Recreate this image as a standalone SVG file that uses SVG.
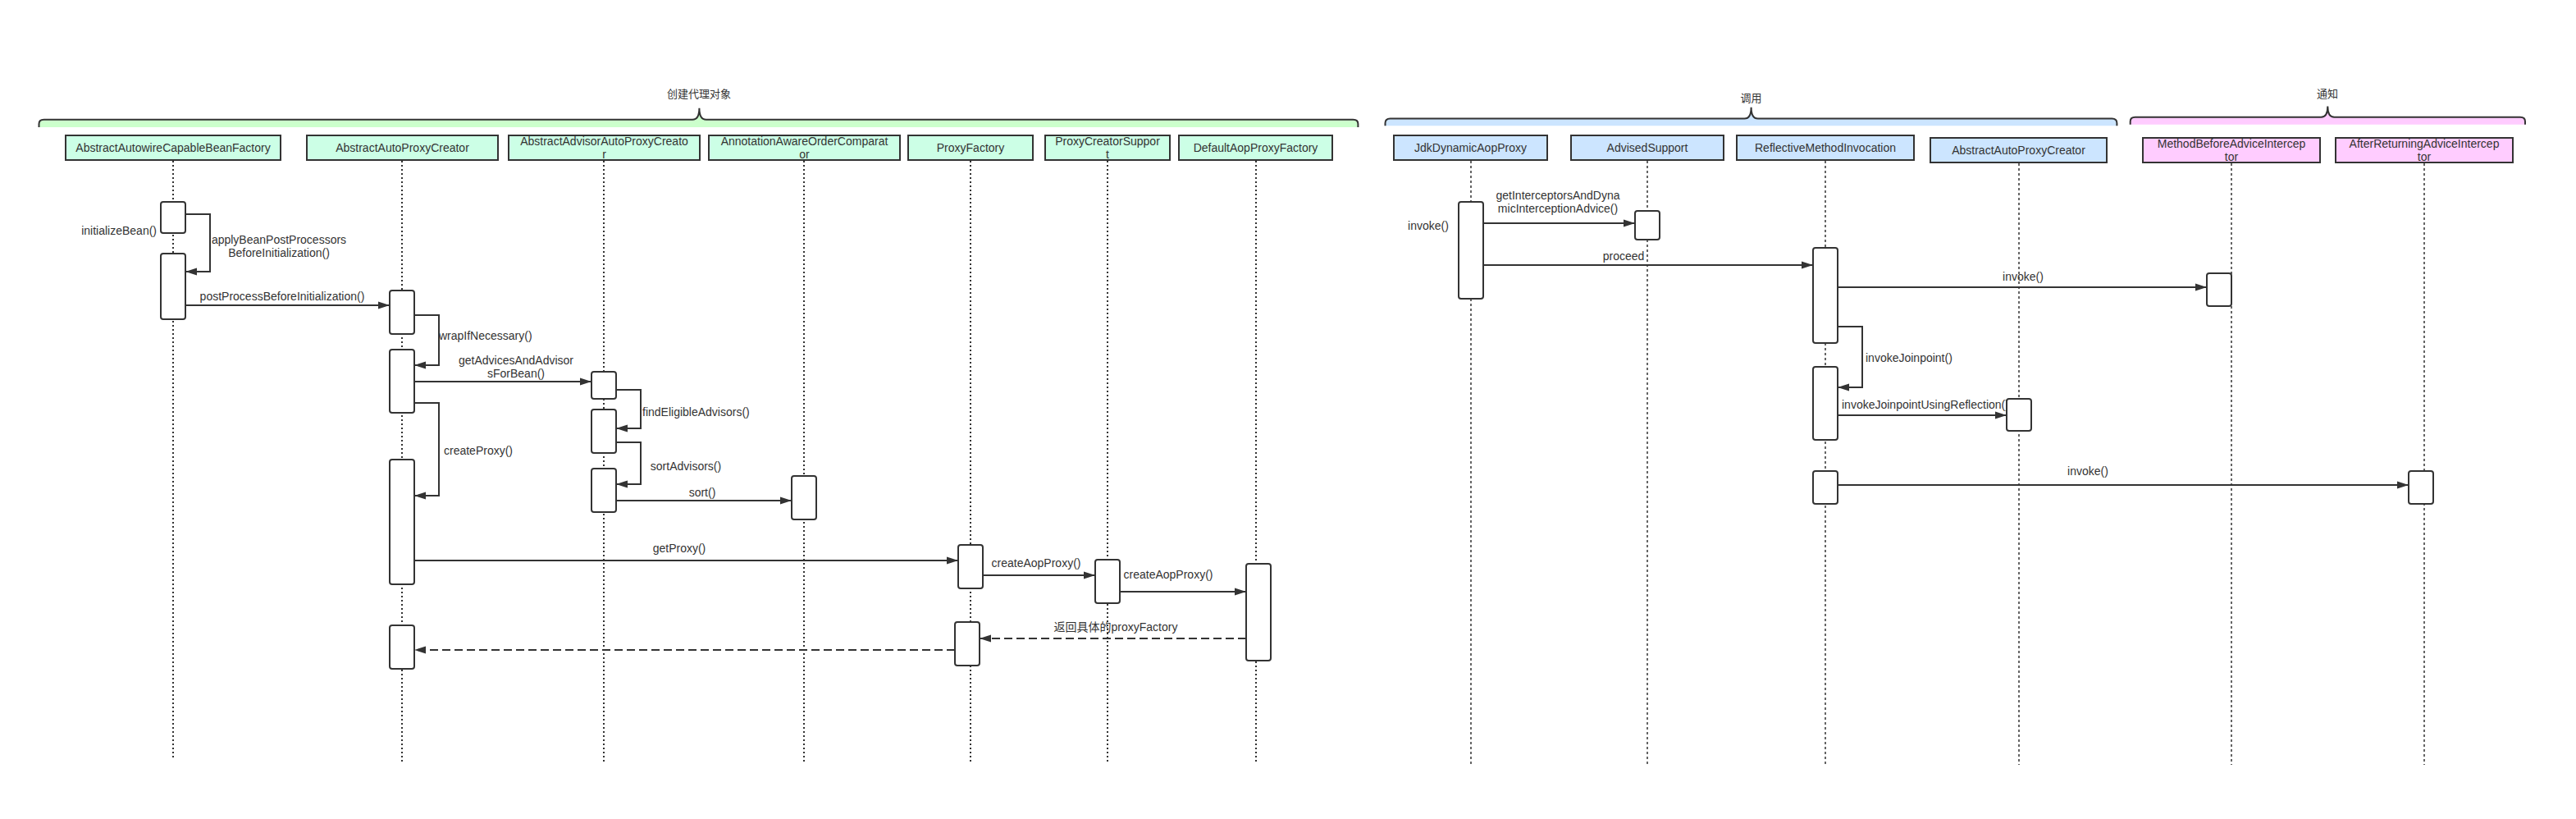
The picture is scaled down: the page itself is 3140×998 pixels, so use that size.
<svg xmlns="http://www.w3.org/2000/svg" width="3140" height="998" viewBox="0 0 3140 998">
<style>
text{font-family:"Liberation Sans","Noto Sans CJK SC",sans-serif;font-size:14px;fill:#333}
.mid{text-anchor:middle}
.end{text-anchor:end}
.cjk{font-size:13px}
.brace{stroke:#333;stroke-width:2}
.hg{fill:#CCFFE6;stroke:#333;stroke-width:2}
.hb{fill:#CCE5FF;stroke:#333;stroke-width:2}
.hp{fill:#FFCCFF;stroke:#333;stroke-width:2}
.ll{stroke:#333;stroke-width:2;stroke-dasharray:2 3;fill:none}
.ll2{stroke:#333;stroke-width:1.5;stroke-dasharray:3 3;fill:none}
.act{fill:#fff;stroke:#333;stroke-width:2}
.msg{stroke:#333;stroke-width:2;fill:none;marker-end:url(#ah)}
.ret{stroke:#333;stroke-width:2;fill:none;stroke-dasharray:10 5;marker-end:url(#ah)}
</style>
<defs>
<marker id="ah" markerUnits="userSpaceOnUse" markerWidth="14" markerHeight="10" refX="14" refY="5" orient="auto">
<path d="M0,0.5 L14,5 L0,9.5 z" fill="#333"/>
</marker>
</defs>
<rect width="3140" height="998" fill="#fff"/>

<g id="braces">
<g id="brace-create">
<path class="brace" fill="#CCFFCC" d="M47.5,155 L47.5,151 Q47.5,145.7 53.5,145.7 L844,145.7 Q852.4,145.7 852.4,131.7 Q852.4,145.7 860.8,145.7 L1649.4,145.7 Q1655.4,145.7 1655.4,151 L1655.4,155"/>
<text class="cjk mid" x="852" y="118.5">创建代理对象</text>
</g>
<g id="brace-invoke">
<path class="brace" fill="#CCE5FF" d="M1688.5,153.3 L1688.5,150 Q1688.5,144.5 1694.5,144.5 L2126.4,144.5 Q2134.6,144.5 2134.6,130.7 Q2134.6,144.5 2142.8,144.5 L2574.4,144.5 Q2580.4,144.5 2580.4,150 L2580.4,153.3"/>
<text class="cjk mid" x="2134.6" y="124">调用</text>
</g>
<g id="brace-advice">
<path class="brace" fill="#FFCCFF" d="M2596.7,151.7 L2596.7,148 Q2596.7,142.7 2602.7,142.7 L2829.3,142.7 Q2837.3,142.7 2837.3,129.5 Q2837.3,142.7 2845.3,142.7 L3072,142.7 Q3078,142.7 3078,148 L3078,151.7"/>
<text class="cjk mid" x="2837" y="119">通知</text>
</g>
</g>

<g id="connectors">
<polyline class="msg" points="226,261 256,261 256,331 226,331"/>
<text class="mid" x="340" y="297">applyBeanPostProcessors</text>
<text class="mid" x="340" y="313">BeforeInitialization()</text>
<line class="msg" x1="226" y1="372" x2="475" y2="372"/>
<text class="mid" x="344" y="366">postProcessBeforeInitialization()</text>
<polyline class="msg" points="505,384 535,384 535,445 505,445"/>
<text x="535" y="414">wrapIfNecessary()</text>
<line class="msg" x1="505" y1="465" x2="721" y2="465"/>
<text class="mid" x="629" y="444">getAdvicesAndAdvisor</text>
<text class="mid" x="629" y="460">sForBean()</text>
<polyline class="msg" points="751,475 781,475 781,522 751,522"/>
<text x="783" y="507">findEligibleAdvisors()</text>
<polyline class="msg" points="751,539 781,539 781,590 751,590"/>
<text class="mid" x="836" y="573">sortAdvisors()</text>
<line class="msg" x1="751" y1="610" x2="965" y2="610"/>
<text class="mid" x="856" y="605">sort()</text>
<polyline class="msg" points="505,491 535,491 535,604 505,604"/>
<text x="541" y="554">createProxy()</text>
<line class="msg" x1="505" y1="683" x2="1168" y2="683"/>
<text class="mid" x="828" y="673">getProxy()</text>
<line class="msg" x1="1198" y1="701" x2="1335" y2="701"/>
<text class="mid" x="1263" y="691">createAopProxy()</text>
<line class="msg" x1="1365" y1="721" x2="1519" y2="721"/>
<text class="mid" x="1424" y="705">createAopProxy()</text>
<line class="ret" x1="1519" y1="778" x2="1194" y2="778"/>
<text class="mid" x="1360" y="769">返回具体的proxyFactory</text>
<line class="ret" x1="1164" y1="792" x2="505" y2="792"/>

<text class="mid" x="1741" y="280">invoke()</text>
<line class="msg" x1="1808" y1="272" x2="1993" y2="272"/>
<text class="mid" x="1899" y="243">getInterceptorsAndDyna</text>
<text class="mid" x="1899" y="259">micInterceptionAdvice()</text>
<line class="msg" x1="1808" y1="323" x2="2210" y2="323"/>
<text class="mid" x="1979" y="317">proceed</text>
<line class="msg" x1="2240" y1="350" x2="2690" y2="350"/>
<text class="mid" x="2466" y="342">invoke()</text>
<polyline class="msg" points="2240,398 2270,398 2270,472 2240,472"/>
<text x="2274" y="441">invokeJoinpoint()</text>
<line class="msg" x1="2240" y1="506" x2="2446" y2="506"/>
<text x="2245" y="498">invokeJoinpointUsingReflection()</text>
<line class="msg" x1="2240" y1="591" x2="2936" y2="591"/>
<text class="mid" x="2545" y="579">invoke()</text>
<text class="end" x="191" y="286">initializeBean()</text>
</g>

<g id="AbstractAutowireCapableBeanFactory">
<rect class="hg" x="80" y="165" width="262" height="30"/>
<text class="mid" x="211" y="185">AbstractAutowireCapableBeanFactory</text>
<line class="ll" x1="211" y1="196" x2="211" y2="925"/>
<rect class="act" x="196" y="246" width="30" height="38" rx="3"/>
<rect class="act" x="196" y="309" width="30" height="80" rx="3"/>
</g>
<g id="AbstractAutoProxyCreator">
<rect class="hg" x="374" y="165" width="233" height="30"/>
<text class="mid" x="490.5" y="185">AbstractAutoProxyCreator</text>
<line class="ll" x1="490" y1="196" x2="490" y2="931"/>
<rect class="act" x="475" y="354" width="30" height="53" rx="3"/>
<rect class="act" x="475" y="426" width="30" height="77" rx="3"/>
<rect class="act" x="475" y="560" width="30" height="152" rx="3"/>
<rect class="act" x="475" y="762" width="30" height="53" rx="3"/>
</g>
<g id="AbstractAdvisorAutoProxyCreator">
<rect class="hg" x="620" y="165" width="233" height="30"/>
<text class="mid" x="736.5" y="177">AbstractAdvisorAutoProxyCreato</text>
<text class="mid" x="736.5" y="193">r</text>
<line class="ll" x1="736" y1="196" x2="736" y2="931"/>
<rect class="act" x="721" y="453" width="30" height="33" rx="3"/>
<rect class="act" x="721" y="499" width="30" height="53" rx="3"/>
<rect class="act" x="721" y="571" width="30" height="53" rx="3"/>
</g>
<g id="AnnotationAwareOrderComparator">
<rect class="hg" x="864" y="165" width="233" height="30"/>
<text class="mid" x="980.5" y="177">AnnotationAwareOrderComparat</text>
<text class="mid" x="980.5" y="193">or</text>
<line class="ll" x1="980" y1="196" x2="980" y2="931"/>
<rect class="act" x="965" y="580" width="30" height="53" rx="3"/>
</g>
<g id="ProxyFactory">
<rect class="hg" x="1107" y="165" width="152" height="30"/>
<text class="mid" x="1183" y="185">ProxyFactory</text>
<line class="ll" x1="1183" y1="196" x2="1183" y2="931"/>
<rect class="act" x="1168" y="664" width="30" height="53" rx="3"/>
<rect class="act" x="1164" y="758" width="30" height="53" rx="3"/>
</g>
<g id="ProxyCreatorSupport">
<rect class="hg" x="1274" y="165" width="152" height="30"/>
<text class="mid" x="1350" y="177">ProxyCreatorSuppor</text>
<text class="mid" x="1350" y="193">t</text>
<line class="ll" x1="1350" y1="196" x2="1350" y2="931"/>
<rect class="act" x="1335" y="682" width="30" height="53" rx="3"/>
</g>
<g id="DefaultAopProxyFactory">
<rect class="hg" x="1437" y="165" width="187" height="30"/>
<text class="mid" x="1530.5" y="185">DefaultAopProxyFactory</text>
<line class="ll" x1="1531" y1="196" x2="1531" y2="931"/>
<rect class="act" x="1519" y="687" width="30" height="118" rx="3"/>
</g>

<g id="JdkDynamicAopProxy">
<rect class="hb" x="1699" y="165" width="187" height="30"/>
<text class="mid" x="1792.5" y="185">JdkDynamicAopProxy</text>
<line class="ll2" x1="1793" y1="196" x2="1793" y2="932"/>
<rect class="act" x="1778" y="246" width="30" height="118" rx="3"/>
</g>
<g id="AdvisedSupport">
<rect class="hb" x="1915" y="165" width="186" height="30"/>
<text class="mid" x="2008" y="185">AdvisedSupport</text>
<line class="ll2" x1="2008" y1="196" x2="2008" y2="932"/>
<rect class="act" x="1993" y="257" width="30" height="35" rx="3"/>
</g>
<g id="ReflectiveMethodInvocation">
<rect class="hb" x="2117" y="165" width="216" height="30"/>
<text class="mid" x="2225" y="185">ReflectiveMethodInvocation</text>
<line class="ll2" x1="2225" y1="196" x2="2225" y2="932"/>
<rect class="act" x="2210" y="302" width="30" height="116" rx="3"/>
<rect class="act" x="2210" y="447" width="30" height="89" rx="3"/>
<rect class="act" x="2210" y="574" width="30" height="40" rx="3"/>
</g>
<g id="AbstractAutoProxyCreator2">
<rect class="hb" x="2353" y="168" width="215" height="30"/>
<text class="mid" x="2460.5" y="188">AbstractAutoProxyCreator</text>
<line class="ll2" x1="2461" y1="199" x2="2461" y2="932"/>
<rect class="act" x="2446" y="486" width="30" height="39" rx="3"/>
</g>
<g id="MethodBeforeAdviceInterceptor">
<rect class="hp" x="2612" y="168" width="216" height="30"/>
<text class="mid" x="2720" y="180">MethodBeforeAdviceIntercep</text>
<text class="mid" x="2720" y="196">tor</text>
<line class="ll2" x1="2720" y1="199" x2="2720" y2="932"/>
<rect class="act" x="2690" y="333" width="30" height="40" rx="3"/>
</g>
<g id="AfterReturningAdviceInterceptor">
<rect class="hp" x="2847" y="168" width="216" height="30"/>
<text class="mid" x="2955" y="180">AfterReturningAdviceIntercep</text>
<text class="mid" x="2955" y="196">tor</text>
<line class="ll2" x1="2955" y1="199" x2="2955" y2="932"/>
<rect class="act" x="2936" y="574" width="30" height="40" rx="3"/>
</g>
</svg>
